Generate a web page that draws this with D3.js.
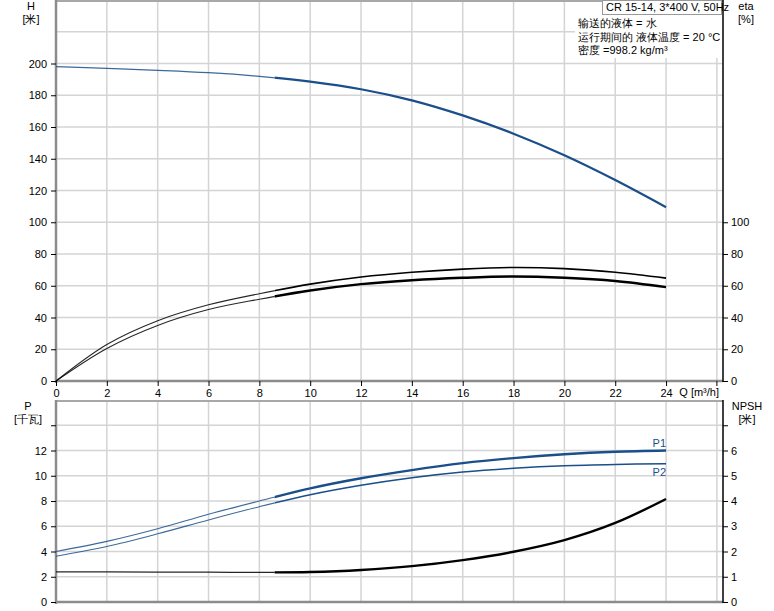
<!DOCTYPE html>
<html><head><meta charset="utf-8">
<script src="https://cdn.jsdelivr.net/npm/d3@7"></script>
<style>
body{margin:0;background:#fff;}
svg{display:block;font-family:"Liberation Sans",Arial,sans-serif;}
</style></head><body>
<svg id="c" width="774" height="611"></svg>
<script>
// ---- data ----
const flow      = [0, 2, 4, 6, 8, 10, 12, 14, 16, 18, 20, 22, 24];
const head      = [198, 196.9, 195.7, 194.2, 191.9, 188.6, 183.8, 176.8, 167.3, 155.8, 142.2, 126.6, 109.5];
const etaTotal  = [0, 23, 38, 48, 55, 61, 65.5, 68.5, 70.5, 71.5, 70.8, 68.5, 64.8];
const etaPump   = [0, 20.5, 35, 45, 51.5, 57, 61, 63.5, 65, 65.8, 65, 63, 59.1];
const powerP1   = [4.0, 4.8, 5.8, 6.95, 8.0, 9.0, 9.8, 10.45, 11.0, 11.4, 11.7, 11.9, 12.0];
const powerP2   = [3.63, 4.4, 5.4, 6.5, 7.55, 8.5, 9.25, 9.85, 10.3, 10.6, 10.8, 10.9, 10.95];
const npsh      = [1.19, 1.19, 1.18, 1.18, 1.17, 1.19, 1.27, 1.42, 1.66, 1.99, 2.45, 3.13, 4.08];
const xTicks    = [0, 2, 4, 6, 8, 10, 12, 14, 16, 18, 20, 22, 24];
const hTicks    = [0, 20, 40, 60, 80, 100, 120, 140, 160, 180, 200];
const etaTicks  = [0, 20, 40, 60, 80, 100];
const pTicks    = [0, 2, 4, 6, 8, 10, 12];
const npshTicks = [0, 1, 2, 3, 4, 5, 6];
const splitQ = 8.6;
const titleText = "CR 15-14, 3*400 V, 50Hz";
const infoLines = ["输送的液体 = 水", "运行期间的 液体温度 = 20 °C", "密度 =998.2 kg/m³"];

// ---- scales ----
const svg = d3.select("#c");
const L = 56, R = 723;
const x = d3.scaleLinear().domain([0, 26.24]).range([L, R]);
const yH = d3.scaleLinear().domain([0, 240]).range([381, 0]);
const yE = d3.scaleLinear().domain([0, 240]).range([381, 0]);
const yP = d3.scaleLinear().domain([0, 16]).range([602, 400]);
const yN = d3.scaleLinear().domain([0, 8]).range([602, 400]);

const gridC = "#d4d4d4", axisGray = "#8c8c8c", blue = "#1a4f8a";

// clip paths for thin (left of split) and thick (right of split) parts
const defs = svg.append("defs");
defs.append("clipPath").attr("id", "cl").append("rect")
  .attr("x", 0).attr("y", 0).attr("width", x(splitQ)).attr("height", 611);
defs.append("clipPath").attr("id", "cr").append("rect")
  .attr("x", x(splitQ)).attr("y", 0).attr("width", 774 - x(splitQ)).attr("height", 611);

// grids
function vgrid(top, bottom){
  svg.append("g").selectAll("line").data(d3.range(2, 27, 2)).join("line")
    .attr("x1", d=>x(d)).attr("x2", d=>x(d)).attr("y1", top).attr("y2", bottom)
    .attr("stroke", gridC).attr("stroke-width", 1.5);
}
vgrid(0, 381); vgrid(400, 602);
svg.append("g").selectAll("line").data(d3.range(20, 240, 20)).join("line")
  .attr("x1", L).attr("x2", R).attr("y1", d=>yH(d)).attr("y2", d=>yH(d))
  .attr("stroke", gridC).attr("stroke-width", 1.5);
svg.append("g").selectAll("line").data(d3.range(2, 16, 2)).join("line")
  .attr("x1", L).attr("x2", R).attr("y1", d=>yP(d)).attr("y2", d=>yP(d))
  .attr("stroke", gridC).attr("stroke-width", 1.5);

// frames
function frame(top, bottom){
  svg.append("line").attr("x1", L).attr("x2", R).attr("y1", top+1).attr("y2", top+1).attr("stroke", "#a8a8a8").attr("stroke-width", 2);
  svg.append("line").attr("x1", L).attr("x2", R).attr("y1", bottom).attr("y2", bottom).attr("stroke", axisGray).attr("stroke-width", 2.5);
  svg.append("line").attr("x1", L).attr("x2", L).attr("y1", top).attr("y2", bottom+2).attr("stroke", axisGray).attr("stroke-width", 2.5);
  svg.append("line").attr("x1", R).attr("x2", R).attr("y1", top).attr("y2", bottom+1).attr("stroke", "#000").attr("stroke-width", 1.5);
}
frame(0, 381); frame(400, 602);

// axes
function styleAxis(g){
  g.select(".domain").remove();
  g.selectAll(".tick line").attr("stroke", "#000");
  g.selectAll(".tick text").attr("fill", "#000").style("font-size", "11px").style("font-family", '"Liberation Sans",Arial,sans-serif');
}
svg.append("g").attr("transform", "translate(0,381)")
  .call(d3.axisBottom(x).tickValues(xTicks).tickSize(5).tickPadding(3).tickFormat(d3.format("d"))).call(styleAxis);
svg.append("line").attr("x1", x(26)).attr("x2", x(26)).attr("y1", 381).attr("y2", 386).attr("stroke", "#000");
svg.append("g").attr("transform", `translate(${L},0)`)
  .call(d3.axisLeft(yH).tickValues(hTicks).tickSize(5).tickPadding(4)).call(styleAxis);
svg.append("g").attr("transform", `translate(${R},0)`)
  .call(d3.axisRight(yE).tickValues(etaTicks).tickSize(5).tickPadding(3)).call(styleAxis);
svg.append("g").attr("transform", `translate(${L},0)`)
  .call(d3.axisLeft(yP).tickValues(pTicks.concat([14])).tickSize(5).tickPadding(4).tickFormat(d=>d===14?"":d)).call(styleAxis);
svg.append("g").attr("transform", `translate(${R},0)`)
  .call(d3.axisRight(yN).tickValues(npshTicks.concat([7])).tickSize(5).tickPadding(3).tickFormat(d=>d===7?"":d)).call(styleAxis);

// axis titles
const txt = (t, xx, yy, anchor="middle") => svg.append("text").text(t).attr("x", xx).attr("y", yy)
  .attr("text-anchor", anchor).style("font-size", "11px").attr("fill", "#000");
txt("H", 31, 10); txt("[米]", 31, 23);
txt("eta", 746, 10); txt("[%]", 746, 23);
txt("P", 28, 410); txt("[千瓦]", 28, 423);
txt("NPSH", 747, 410); txt("[米]", 747, 423);
txt("Q [m³/h]", 719, 396, "end");

// curves
function drawSeries(vals, yS, color, wThin, wThick){
  const pts = flow.map((q,i)=>[q, vals[i]]);
  const line = d3.line().x(d=>x(d[0])).y(d=>yS(d[1])).curve(d3.curveCatmullRom.alpha(0.5));
  const d = line(pts);
  svg.append("path").attr("d", d).attr("fill","none").attr("clip-path", "url(#cl)")
    .attr("stroke", color).attr("stroke-width", wThin).attr("stroke-opacity", 0.85);
  svg.append("path").attr("d", d).attr("fill","none").attr("clip-path", "url(#cr)")
    .attr("stroke", color).attr("stroke-width", wThick);
}
drawSeries(head, yH, blue, 1.3, 2.2);
drawSeries(etaTotal, yE, "#000", 1.1, 1.6);
drawSeries(etaPump, yE, "#000", 1.1, 2.4);
drawSeries(powerP1, yP, blue, 1.1, 2.4);
drawSeries(powerP2, yP, blue, 1.1, 1.5);
drawSeries(npsh, yN, "#000", 1.2, 2.4);

// P1/P2 labels
svg.append("text").text("P1").attr("x", x(24)).attr("y", yP(powerP1[powerP1.length-1]) - 4)
  .attr("text-anchor","end").style("font-size","11px").attr("fill", blue);
svg.append("text").text("P2").attr("x", x(24)).attr("y", yP(powerP2[powerP2.length-1]) + 12)
  .attr("text-anchor","end").style("font-size","11px").attr("fill", blue);

// info box
svg.append("rect").attr("x", 575).attr("y", 14).attr("width", 147).attr("height", 44).attr("fill", "#fff");
svg.append("rect").attr("x", 602.5).attr("y", 0.5).attr("width", 119).attr("height", 14).attr("fill", "#fff")
  .attr("stroke", "#999").attr("stroke-width", 1);
svg.append("text").text(titleText).attr("x", 606).attr("y", 11).style("font-size", "11px").attr("fill", "#000");
infoLines.forEach((t,i)=>svg.append("text").text(t).attr("x", 578).attr("y", 27 + i*13.5)
  .style("font-size", "11px").attr("fill", "#000"));
</script>
</body></html>
